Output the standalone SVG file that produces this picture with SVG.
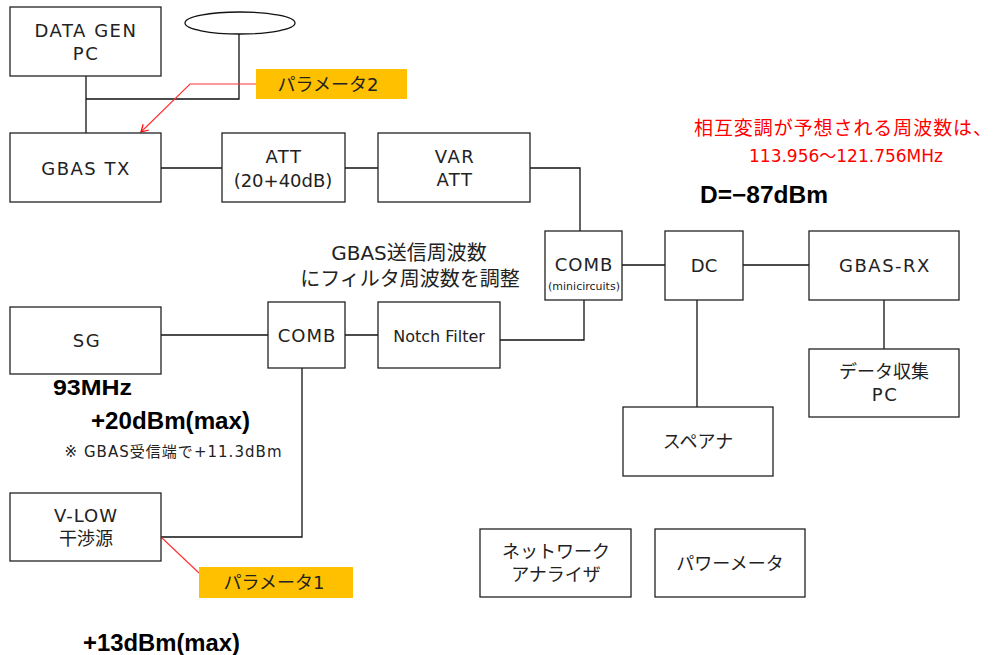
<svg xmlns="http://www.w3.org/2000/svg" width="997" height="655" viewBox="0 0 997 655">
<style>
.box{fill:#fff;stroke:#222;stroke-width:1.3}
.ln{fill:none;stroke:#111;stroke-width:1.3}
.t{font-family:"DejaVu Sans","Noto Sans CJK JP",sans-serif;font-size:18px;fill:#222;text-anchor:middle;dominant-baseline:central}
.w{letter-spacing:1.5px}
.s{font-size:11px}
.b{font-family:"Liberation Sans","Noto Sans CJK JP",sans-serif;font-weight:bold;fill:#000}
.red{fill:#f00}
.tag{fill:#ffc000}
</style>
<defs>
<marker id="ar" markerWidth="10" markerHeight="10" refX="8" refY="5" orient="auto" markerUnits="userSpaceOnUse">
<path d="M1,1 L8,5 L1,9" fill="none" stroke="#f00" stroke-width="1.2"/>
</marker>
</defs>
<rect width="997" height="655" fill="#fff"/>
<g id="connectors">
<path class="ln" d="M86,76 V133"/>
<path class="ln" d="M86,99 H239 V34"/>
<path class="ln" d="M161,168 H222"/>
<path class="ln" d="M345,168 H378"/>
<path class="ln" d="M530,168 H580 V231"/>
<path class="ln" d="M622,265 H665"/>
<path class="ln" d="M743,265 H809"/>
<path class="ln" d="M884,300 V349"/>
<path class="ln" d="M697,300 V407"/>
<path class="ln" d="M161,335 H268"/>
<path class="ln" d="M345,335 H378"/>
<path class="ln" d="M500,340 H584 V300"/>
<path class="ln" d="M302,368 V537 H161"/>
<path d="M256,84 H190 L141,132" fill="none" stroke="#f33" stroke-width="1.2" marker-end="url(#ar)"/>
<path d="M161,537 L199,573" fill="none" stroke="#f33" stroke-width="1.2"/>
</g>
<g id="antenna"><ellipse cx="240" cy="23" rx="55" ry="11" fill="#fff" stroke="#111" stroke-width="1.3"/></g>
<g id="datagen"><rect class="box" x="10" y="7" width="151" height="69"/><text class="t w" x="86" y="30">DATA GEN</text><text class="t w" x="86" y="53">PC</text></g>
<g id="gbastx"><rect class="box" x="10" y="133" width="151" height="69"/><text class="t w" x="86" y="168">GBAS TX</text></g>
<g id="att"><rect class="box" x="222" y="133" width="123" height="69"/><text class="t w" x="284" y="156">ATT</text><text class="t" x="283" y="180">(20+40dB)</text></g>
<g id="varatt"><rect class="box" x="378" y="133" width="152" height="69"/><text class="t w" x="455" y="156">VAR</text><text class="t w" x="455" y="179">ATT</text></g>
<g id="param2"><rect class="tag" x="256" y="69" width="151" height="30"/><text class="t" x="328" y="84">パラメータ2</text></g>
<g id="comb2"><rect class="box" x="545" y="231" width="77" height="69"/><text class="t" x="584" y="264" style="letter-spacing:1px">COMB</text><text class="t s" x="584" y="286">(minicircuits)</text></g>
<g id="dc"><rect class="box" x="665" y="231" width="78" height="69"/><text class="t" x="704" y="265">DC</text></g>
<g id="gbasrx"><rect class="box" x="809" y="231" width="150" height="69"/><text class="t w" x="885" y="265">GBAS-RX</text></g>
<g id="datapc"><rect class="box" x="809" y="349" width="150" height="68"/><text class="t" x="884" y="371">データ収集</text><text class="t w" x="885" y="394">PC</text></g>
<g id="spana"><rect class="box" x="623" y="407" width="150" height="69"/><text class="t" x="698" y="441">スペアナ</text></g>
<g id="sg"><rect class="box" x="10" y="307" width="151" height="67"/><text class="t w" x="87" y="340">SG</text></g>
<g id="comb1"><rect class="box" x="268" y="302" width="77" height="66"/><text class="t" x="307" y="335" style="letter-spacing:1px">COMB</text></g>
<g id="notch"><rect class="box" x="378" y="302" width="122" height="66"/><text class="t" x="439" y="336" style="font-size:16px">Notch Filter</text></g>
<g id="vlow"><rect class="box" x="10" y="493" width="151" height="68"/><text class="t" x="86" y="515" style="letter-spacing:1px">V-LOW</text><text class="t" x="86" y="538">干渉源</text></g>
<g id="param1"><rect class="tag" x="199" y="567" width="154" height="31"/><text class="t" x="274" y="582">パラメータ1</text></g>
<g id="netana"><rect class="box" x="480" y="529" width="151" height="68"/><text class="t" x="556" y="551">ネットワーク</text><text class="t" x="556" y="574">アナライザ</text></g>
<g id="power"><rect class="box" x="655" y="529" width="150" height="68"/><text class="t" x="730" y="563">パワーメータ</text></g>
<g id="notes">
<text class="t" x="409" y="253" style="font-size:20px">GBAS送信周波数</text>
<text class="t" x="410" y="279" style="font-size:20px">にフィルタ周波数を調整</text>
<text class="t red" x="843" y="128" style="font-size:19px" textLength="298">相互変調が予想される周波数は、</text>
<text class="t red" x="846" y="156" style="font-size:17px">113.956～121.756MHz</text>
<text class="b" x="700" y="203" style="font-size:23px" textLength="128" lengthAdjust="spacingAndGlyphs">D=−87dBm</text>
<text class="b" x="53" y="395" style="font-size:22px" textLength="79" lengthAdjust="spacingAndGlyphs">93MHz</text>
<text class="b" x="91" y="429" style="font-size:23px" textLength="159" lengthAdjust="spacingAndGlyphs">+20dBm(max)</text>
<text class="t" x="173" y="452" style="font-size:15px" textLength="217">※ GBAS受信端で+11.3dBm</text>
<text class="b" x="83" y="651" style="font-size:23px" textLength="157" lengthAdjust="spacingAndGlyphs">+13dBm(max)</text>
</g>
</svg>
